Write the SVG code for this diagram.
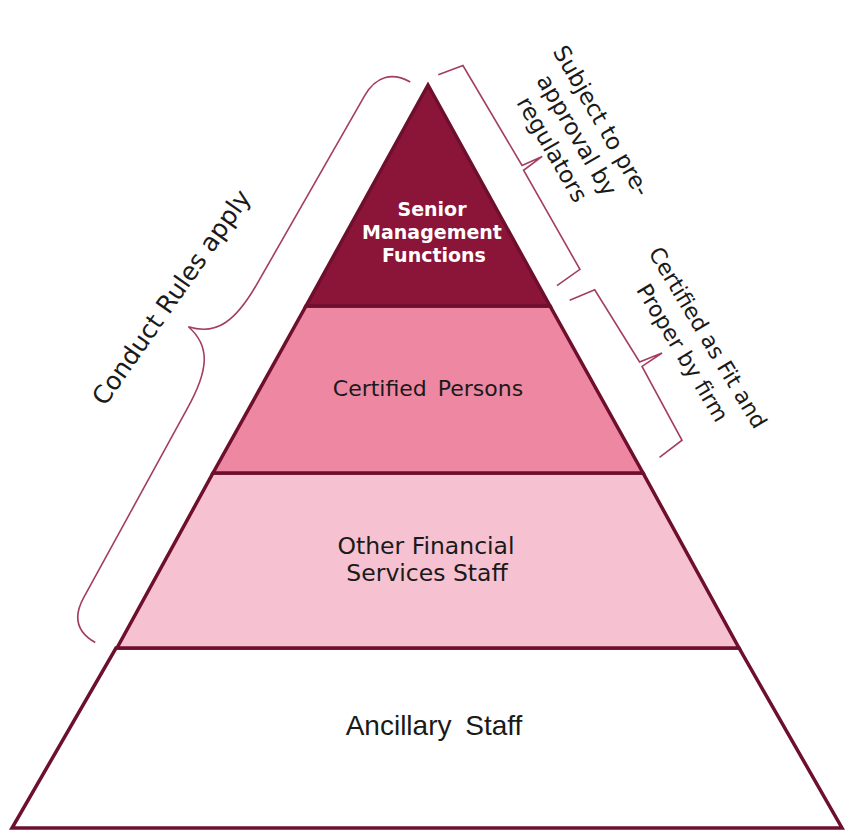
<svg xmlns="http://www.w3.org/2000/svg" width="850" height="840" viewBox="0 0 850 840">
<style>
.layer{stroke:#6e0f2d;stroke-width:3.5;stroke-linejoin:miter}
.lbl{font-family:"DejaVu Sans","Liberation Sans",sans-serif;fill:#1a1a1a;text-anchor:middle}
.br{fill:none;stroke:#a33d62;stroke-width:1.6;stroke-linejoin:miter}
.note{font-family:"DejaVu Sans","Liberation Sans",sans-serif;fill:#1a1a1a;text-anchor:middle;font-size:22px}
</style>
<rect width="850" height="840" fill="#ffffff"/>
<g id="ancillary">
<polygon class="layer" points="116,648 739,648 842,828 12,828" fill="#ffffff"/>
<text class="lbl" x="434" y="735" style="font-family:'Liberation Sans',sans-serif;font-size:28px;word-spacing:6px">Ancillary Staff</text>
</g>
<g id="other">
<polygon class="layer" points="213,473 643,473 739,648 117,648" fill="#f6c1d0"/>
<text class="lbl" x="426" y="554" font-size="23.5">Other Financial</text>
<text class="lbl" x="427" y="581" font-size="23.5">Services Staff</text>
</g>
<g id="certified">
<polygon class="layer" points="306,306 550,306 643,473 213,473" fill="#ee87a2"/>
<text class="lbl" x="428" y="396" font-size="22" style="word-spacing:4px">Certified Persons</text>
</g>
<g id="smf">
<polygon class="layer" points="428,85 550,306 306,306" fill="#8b1538"/>
<text class="lbl" x="432" y="216" font-size="19" font-weight="bold" style="fill:#ffffff">Senior</text>
<text class="lbl" x="432" y="239" font-size="19" font-weight="bold" style="fill:#ffffff">Management</text>
<text class="lbl" x="434" y="262" font-size="19" font-weight="bold" style="fill:#ffffff">Functions</text>
</g>
<g id="connectors">
<path class="br" transform="matrix(-0.4885 0.8726 -0.8726 -0.4885 428 85)" d="M 6 17 C 6 38 18 50 40 50 L 255 52 C 300 52 322 62 328 91 C 334 62 356 52 400 52 L 615 50 C 637 50 649 40 649 18"/>
<path class="br" transform="matrix(0.4867 0.8735 0.8735 -0.4867 428 85)" d="M -4 14 L 0 40 L 116 43 L 118 65 L 121 42 L 235 43 L 238 15"/>
<path class="br" transform="matrix(0.4867 0.8735 0.8735 -0.4867 428 85)" d="M 257 19 L 260 46 L 345 50 L 348 74 L 350 50 L 434 49 L 438 21"/>
</g>
<g id="conduct-label">
<text class="note" transform="translate(171,297) rotate(-55)" y="9" style="font-size:25px">Conduct Rules apply</text>
</g>
<g id="preapproval-label">
<g transform="translate(577,135) rotate(60)">
<text class="note" x="0" y="-20.5" style="font-size:23px">Subject to pre-</text>
<text class="note" x="0" y="8" style="font-size:23px">approval by</text>
<text class="note" x="0" y="36.5" style="font-size:23px">regulators</text>
</g>
</g>
<g id="fitproper-label">
<g transform="translate(695.5,345) rotate(59)">
<text class="note" x="0" y="-6.7">Certified as Fit and</text>
<text class="note" x="0" y="22.7">Proper by firm</text>
</g>
</g>
</svg>
